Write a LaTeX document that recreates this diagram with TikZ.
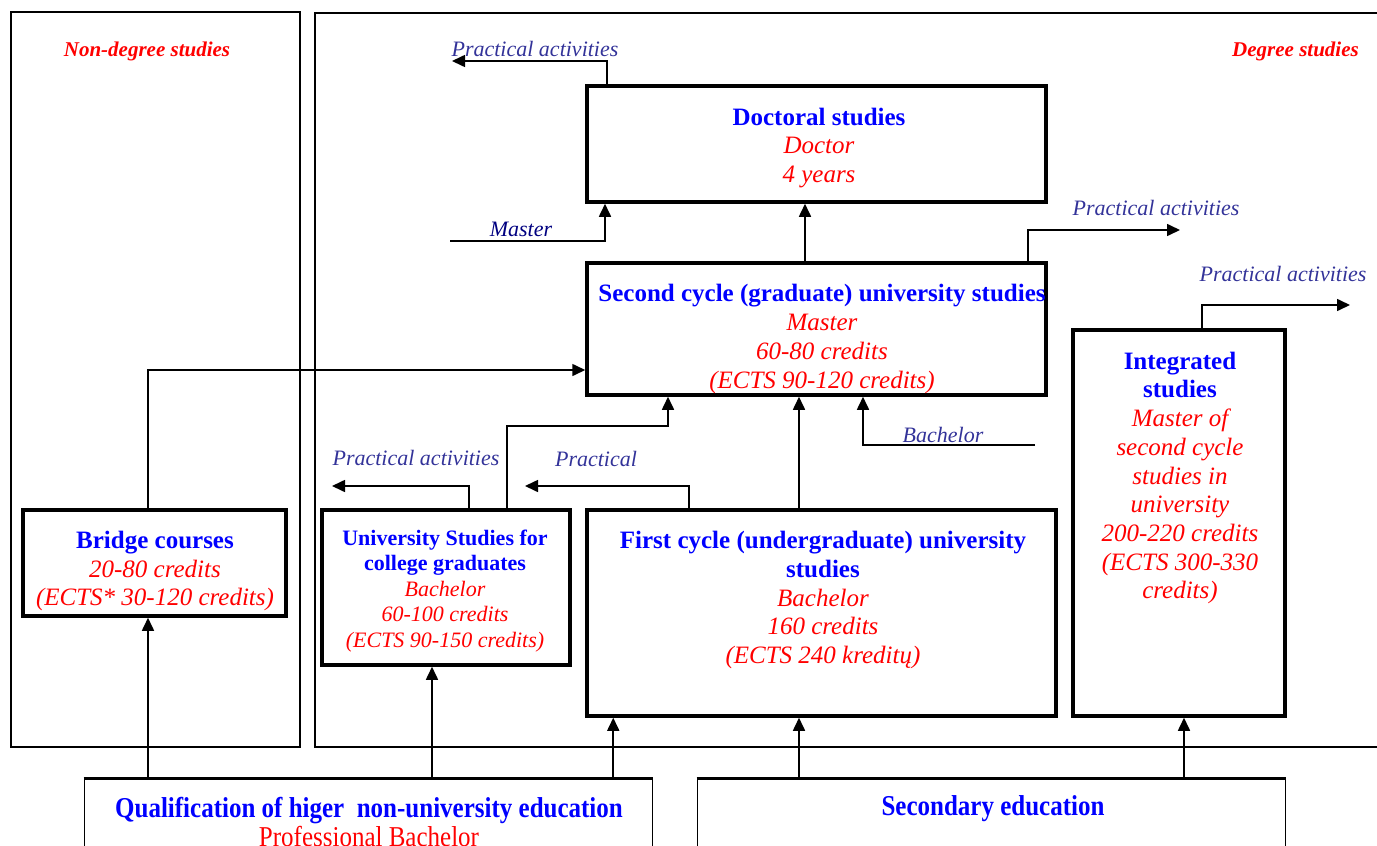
\documentclass[tikz,border=0pt]{standalone}
\usepackage{fontspec}
\usepackage{graphicx}
\setmainfont{Liberation Serif}
\usetikzlibrary{arrows.meta}

\definecolor{titleblue}{RGB}{0,0,255}
\definecolor{credred}{RGB}{255,0,0}
\definecolor{pracblue}{RGB}{51,51,153}
\definecolor{mastnavy}{RGB}{0,0,128}

\newcommand{\headtxt}[1]{\textcolor{titleblue}{\bfseries #1}}
\newcommand{\credtxt}[1]{\textcolor{credred}{\itshape #1}}

\begin{document}
\begin{tikzpicture}[x=1pt,y=-1pt,
    stage/.style={draw,line width=3.5pt,inner sep=0pt},
    basebox/.style={draw,line width=1pt,inner sep=0pt},
    frame/.style={draw,line width=1.5pt},
    boxtext/.style={align=center,inner sep=0pt,font=\fontsize{25}{28.7}\selectfont},
    smalltext/.style={align=center,inner sep=0pt,font=\fontsize{22}{25.5}\selectfont},
    pract/.style={inner sep=0pt,text=pracblue,font=\fontsize{22}{26}\selectfont\itshape},
    arr/.style={line width=1.6pt,-{Triangle[length=13pt,width=12pt]}}]
\useasboundingbox (0,0) rectangle (1377,846);

% outer frames
\draw[frame] (11,12) rectangle (300,747);
\draw[frame] (315,13) rectangle (1392,747);
\node[inner sep=0pt,text=credred,font=\fontsize{21}{25}\selectfont\bfseries\itshape] (nondeg) at (147,51) {Non-degree studies};
\node[inner sep=0pt,anchor=east,text=credred,font=\fontsize{21}{25}\selectfont\bfseries\itshape] (deg) at (1359,51) {Degree studies};

% study boxes
\node[stage,minimum width=459pt,minimum height=116pt] (doc) at (816.5,144) {};
\node[stage,minimum width=459pt,minimum height=132pt] (second) at (816.5,329) {};
\node[stage,minimum width=212pt,minimum height=386pt] (integ) at (1179,523) {};
\node[stage,minimum width=469pt,minimum height=206pt] (first) at (821.5,613) {};
\node[stage,minimum width=248pt,minimum height=155pt] (univ) at (446,587.5) {};
\node[stage,minimum width=263pt,minimum height=106pt] (bridge) at (154.5,563) {};
\node[basebox,minimum width=568pt,minimum height=102pt] (qual) at (368,830) {};
\node[basebox,minimum width=588pt,minimum height=102pt] (sec) at (991,830) {};
\draw[line width=2.5pt] (qual.north west) -- (qual.north east);
\draw[line width=2.5pt] (sec.north west) -- (sec.north east);

% box texts
\node[boxtext] (doc-t) at (819,148) {\headtxt{Doctoral studies}\\ \credtxt{Doctor}\\ \credtxt{4 years}};
\node[boxtext] (second-t) at (822,339) {\headtxt{Second cycle (graduate) university studies}\\ \credtxt{Master}\\ \credtxt{60-80 credits}\\ \credtxt{(ECTS 90-120 credits)}};
\node[boxtext] (integ-t) at (1180,478) {\headtxt{Integrated}\\ \headtxt{studies}\\ \credtxt{Master of}\\ \credtxt{second cycle}\\ \credtxt{studies in}\\ \credtxt{university}\\ \credtxt{200-220 credits}\\ \credtxt{(ECTS 300-330}\\ \credtxt{credits)}};
\node[boxtext] (first-t) at (823,600) {\headtxt{First cycle (undergraduate) university}\\ \headtxt{studies}\\ \credtxt{Bachelor}\\ \credtxt{160 credits}\\ \credtxt{(ECTS 240 kreditų)}};
\node[smalltext] (univ-t) at (445,591) {\headtxt{University Studies for}\\ \headtxt{college graduates}\\ \credtxt{Bachelor}\\ \credtxt{60-100 credits}\\ \credtxt{(ECTS 90-150 credits)}};
\node[boxtext] (bridge-t) at (155,571) {\headtxt{Bridge courses}\\ \credtxt{20-80 credits}\\ \credtxt{(ECTS* 30-120 credits)}};
\node[boxtext] (qual-t) at (369,822) {\scalebox{1}[1.15]{\headtxt{Qualification of higer\ \ non-university education}}\\ \scalebox{1}[1.15]{\textcolor{credred}{Professional Bachelor}}};
\node[boxtext] (sec-t) at (993,809) {\scalebox{1}[1.15]{\headtxt{Secondary education}}};

% free ends
\coordinate (pa-doc) at (452,61);
\coordinate (pa-second) at (1180,230);
\coordinate (pa-integ) at (1350,305);
\coordinate (pa-univ) at (332,486);
\coordinate (pa-first) at (525,486);
\coordinate (ma-in) at (450,241);
\coordinate (ba-in) at (1035,445);

% connectors
\draw[arr] ([xshift=-6.5pt]bridge.south |- qual.north) -- ([xshift=-6.5pt]bridge.south);
\draw[arr] ([xshift=-6.5pt]bridge.north) |- ([yshift=-41pt]second.west);
\draw[arr] ([xshift=-14pt]univ.south |- qual.north) -- ([xshift=-14pt]univ.south);
\draw[arr] ([xshift=28pt]first.south west |- qual.north) -- ([xshift=28pt]first.south west);
\draw[arr] ([xshift=-22.5pt]first.south |- sec.north) -- ([xshift=-22.5pt]first.south);
\draw[arr] ([xshift=5pt]integ.south |- sec.north) -- ([xshift=5pt]integ.south);
\draw[arr] ([xshift=-22.5pt]first.north) -- ([xshift=-22.5pt]first.north |- second.south);
\draw[arr] ([xshift=61pt]univ.north) -- ++(0,-82) -| ([xshift=-148.5pt]second.south);
\draw[arr] ([xshift=23pt]univ.north) |- (pa-univ);
\draw[arr] ([xshift=-132.5pt]first.north) |- (pa-first);
\draw[arr] (ba-in) -| ([xshift=46.5pt]second.south);
\draw[arr] ([xshift=-11.5pt]second.north) -- ([xshift=-11.5pt]doc.south);
\draw[arr] (ma-in) -| ([xshift=-211.5pt]doc.south);
\draw[arr] ([xshift=-209.5pt]doc.north) |- (pa-doc);
\draw[arr] ([xshift=211.5pt]second.north) |- (pa-second);
\draw[arr] ([xshift=23pt]integ.north) |- (pa-integ);

% connector labels
\node[pract] (pa-doc-l) at (535,49) {Practical activities};
\node[pract] (pa-second-l) at (1156,208) {Practical activities};
\node[pract] (pa-integ-l) at (1283,274) {Practical activities};
\node[pract] (pa-univ-l) at (416,458) {Practical activities};
\node[pract] (pa-first-l) at (596,459) {Practical};
\node[pract,text=mastnavy] (ma-l) at (521,229) {Master};
\node[pract] (ba-l) at (943,435) {Bachelor};
\end{tikzpicture}
\end{document}
